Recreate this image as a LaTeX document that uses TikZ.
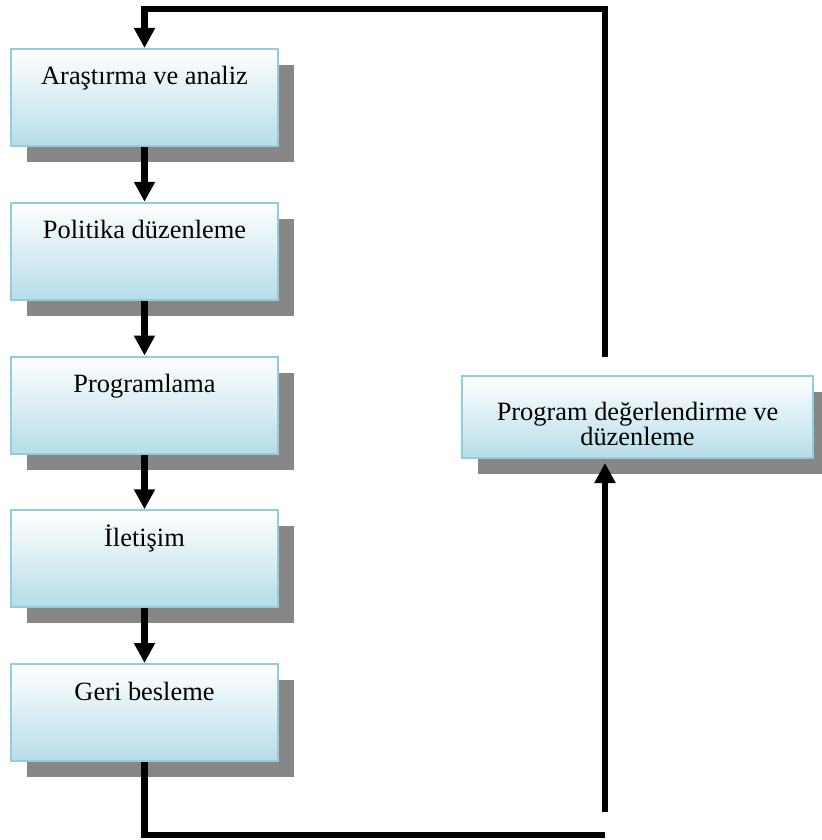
\documentclass[tikz,border=0pt]{standalone}
\usepackage{fontspec}
\setmainfont{Liberation Serif}
\usetikzlibrary{arrows.meta,shadows}

\definecolor{boxblue}{RGB}{183,221,232}
\definecolor{boxedge}{RGB}{146,205,221}
\definecolor{shadowgray}{RGB}{135,135,135}

\tikzset{
  stage/.style={draw=boxedge, line width=1pt, top color=white, bottom color=boxblue,
    general shadow={fill=shadowgray, shadow xshift=8pt, shadow yshift=-8pt},
    minimum width=133.5pt, inner sep=0pt, text height=18pt, text depth=30.5pt,
    font=\fontsize{13.2}{12.5}\selectfont},
  review/.style={stage, minimum width=175.5pt, align=center,
    text height=34.5pt, text depth=6.5pt},
  link/.style={line width=3.25pt},
  conn/.style={link, -{Triangle[width=10pt,length=10pt]}}
}

\begin{document}
\begin{tikzpicture}[x=0.5pt, y=-0.5pt]
    \useasboundingbox (0,0) rectangle (822,840);

    % The five steps on the left
    \node[stage] (research) at (144.5,97.5) {Araştırma ve analiz};
    \node[stage] (policy) at (144.5,251.25) {Politika düzenleme};
    \node[stage] (program) at (144.5,405) {Programlama};
    \node[stage] (comm) at (144.5,558.75) {İletişim};
    \node[stage] (feedback) at (144.5,712.5) {Geri besleme};

    % The review step on the right
    \node[review] (review) at (637.5,417) {Program değerlendirme ve\\düzenleme};

    % Corner points of the loop
    \coordinate (topleft) at (147,9);
    \coordinate (righttop) at (605,357);
    \coordinate (botright) at (605,835);
    \coordinate (rightbot) at (605,812);

    % Arrows down the chain
    \draw[conn] (research) -- (policy);
    \draw[conn] (policy) -- (program);
    \draw[conn] (program) -- (comm);
    \draw[conn] (comm) -- (feedback);

    % Loop back through the review step
    \draw[link] (feedback.south) |- (botright);
    \draw[conn, shorten >=2pt] (rightbot) -- (review.south -| rightbot);
    \draw[conn] (righttop) |- (research.north |- topleft) -- (research.north);

\end{tikzpicture}
\end{document}
